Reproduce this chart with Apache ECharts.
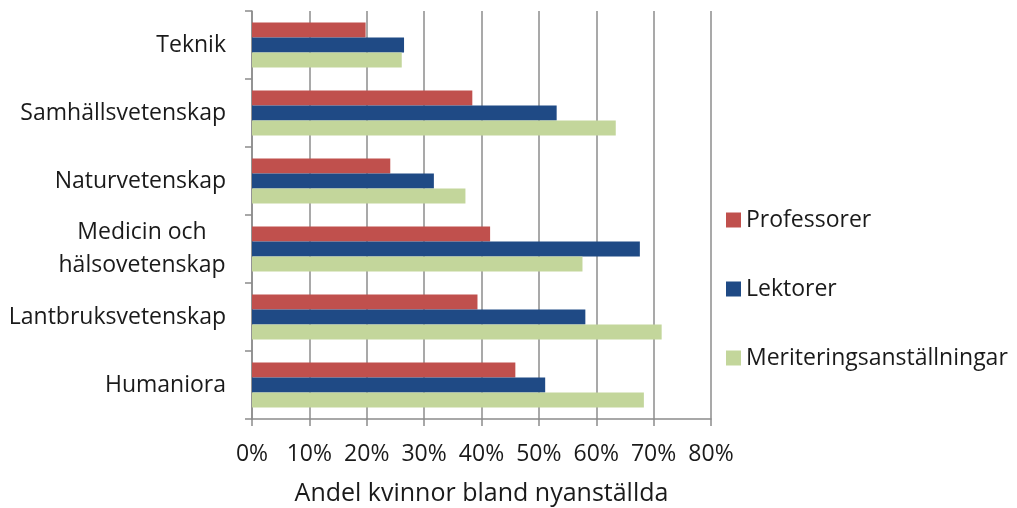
<!DOCTYPE html>
<html>
<head>
<meta charset="utf-8">
<script src="https://cdn.jsdelivr.net/npm/echarts@6/dist/echarts.min.js"></script>
<style>html,body{margin:0;padding:0;background:#fff}#c{width:1017px;height:508px}</style>
</head>
<body>
<div id="c"></div>
<script>
const categories = ["Teknik", "Samhällsvetenskap", "Naturvetenskap", "Medicin och\nhälsovetenskap", "Lantbruksvetenskap", "Humaniora"];
const professorer = [19.8, 38.4, 24.1, 41.5, 39.3, 45.9];
const lektorer = [26.5, 53.1, 31.7, 67.6, 58.1, 51.1];
const meritering = [26.1, 63.4, 37.2, 57.6, 71.4, 68.3];
const seriesNames = ["Professorer", "Lektorer", "Meriteringsanställningar"];
const xTicks = [0, 10, 20, 30, 40, 50, 60, 70, 80];

const FONT = "Open Sans";
const chart = echarts.init(document.getElementById('c'), null, {renderer: 'canvas'});
const colors = ['#C0504D', '#1F4A85', '#C3D69B'];
chart.setOption({
  animation: false,
  color: colors,
  textStyle: {fontFamily: FONT, color: '#1a1a1a'},
  grid: {left: 252, right: 306, top: 11, bottom: 89, containLabel: false, outerBoundsMode: 'none'},
  legend: {
    orient: 'vertical', left: 726, top: 208, padding: 0,
    itemWidth: 15, itemHeight: 15, itemGap: 45, icon: 'rect',
    textStyle: {fontFamily: FONT, fontSize: 23, color: '#1a1a1a', lineHeight: 24},
    data: seriesNames
  },
  xAxis: {
    type: 'value', min: xTicks[0], max: xTicks[xTicks.length-1], interval: 10,
    axisLine: {show: true, lineStyle: {color: '#8c8c8c', width: 1.5}},
    axisTick: {show: true, length: 7, lineStyle: {color: '#8c8c8c', width: 1.5}},
    splitLine: {show: true, lineStyle: {color: '#8c8c8c', width: 1.5}},
    axisLabel: {margin: 24, fontFamily: FONT, fontSize: 23, color: '#1a1a1a', formatter: v => v + '%'},
    name: 'Andel kvinnor bland nyanställda', nameLocation: 'middle', nameGap: 62,
    nameTextStyle: {fontFamily: FONT, fontSize: 25, color: '#1a1a1a'}
  },
  yAxis: {
    type: 'category', data: categories, inverse: true,
    axisLine: {show: true, lineStyle: {color: '#8c8c8c', width: 1.5}},
    axisTick: {show: true, length: 7, lineStyle: {color: '#8c8c8c', width: 1.5}},
    splitLine: {show: false},
    axisLabel: {
      margin: 26, fontFamily: FONT, fontSize: 23, color: '#1a1a1a', lineHeight: 33,
      formatter: v => v.indexOf('\n') >= 0 ? v.split('\n').map(s => '{c|' + s + '}').join('\n') : v,
      rich: {c: {fontFamily: FONT, fontSize: 23, color: '#1a1a1a', lineHeight: 33, align: 'center', width: 168}}
    }
  },
  series: [
    {name: seriesNames[0], type: 'bar', data: professorer, barGap: '0%', barCategoryGap: '34%'},
    {name: seriesNames[1], type: 'bar', data: lektorer, barGap: '0%', barCategoryGap: '34%'},
    {name: seriesNames[2], type: 'bar', data: meritering, barGap: '0%', barCategoryGap: '34%'}
  ]
});
</script>
</body>
</html>
